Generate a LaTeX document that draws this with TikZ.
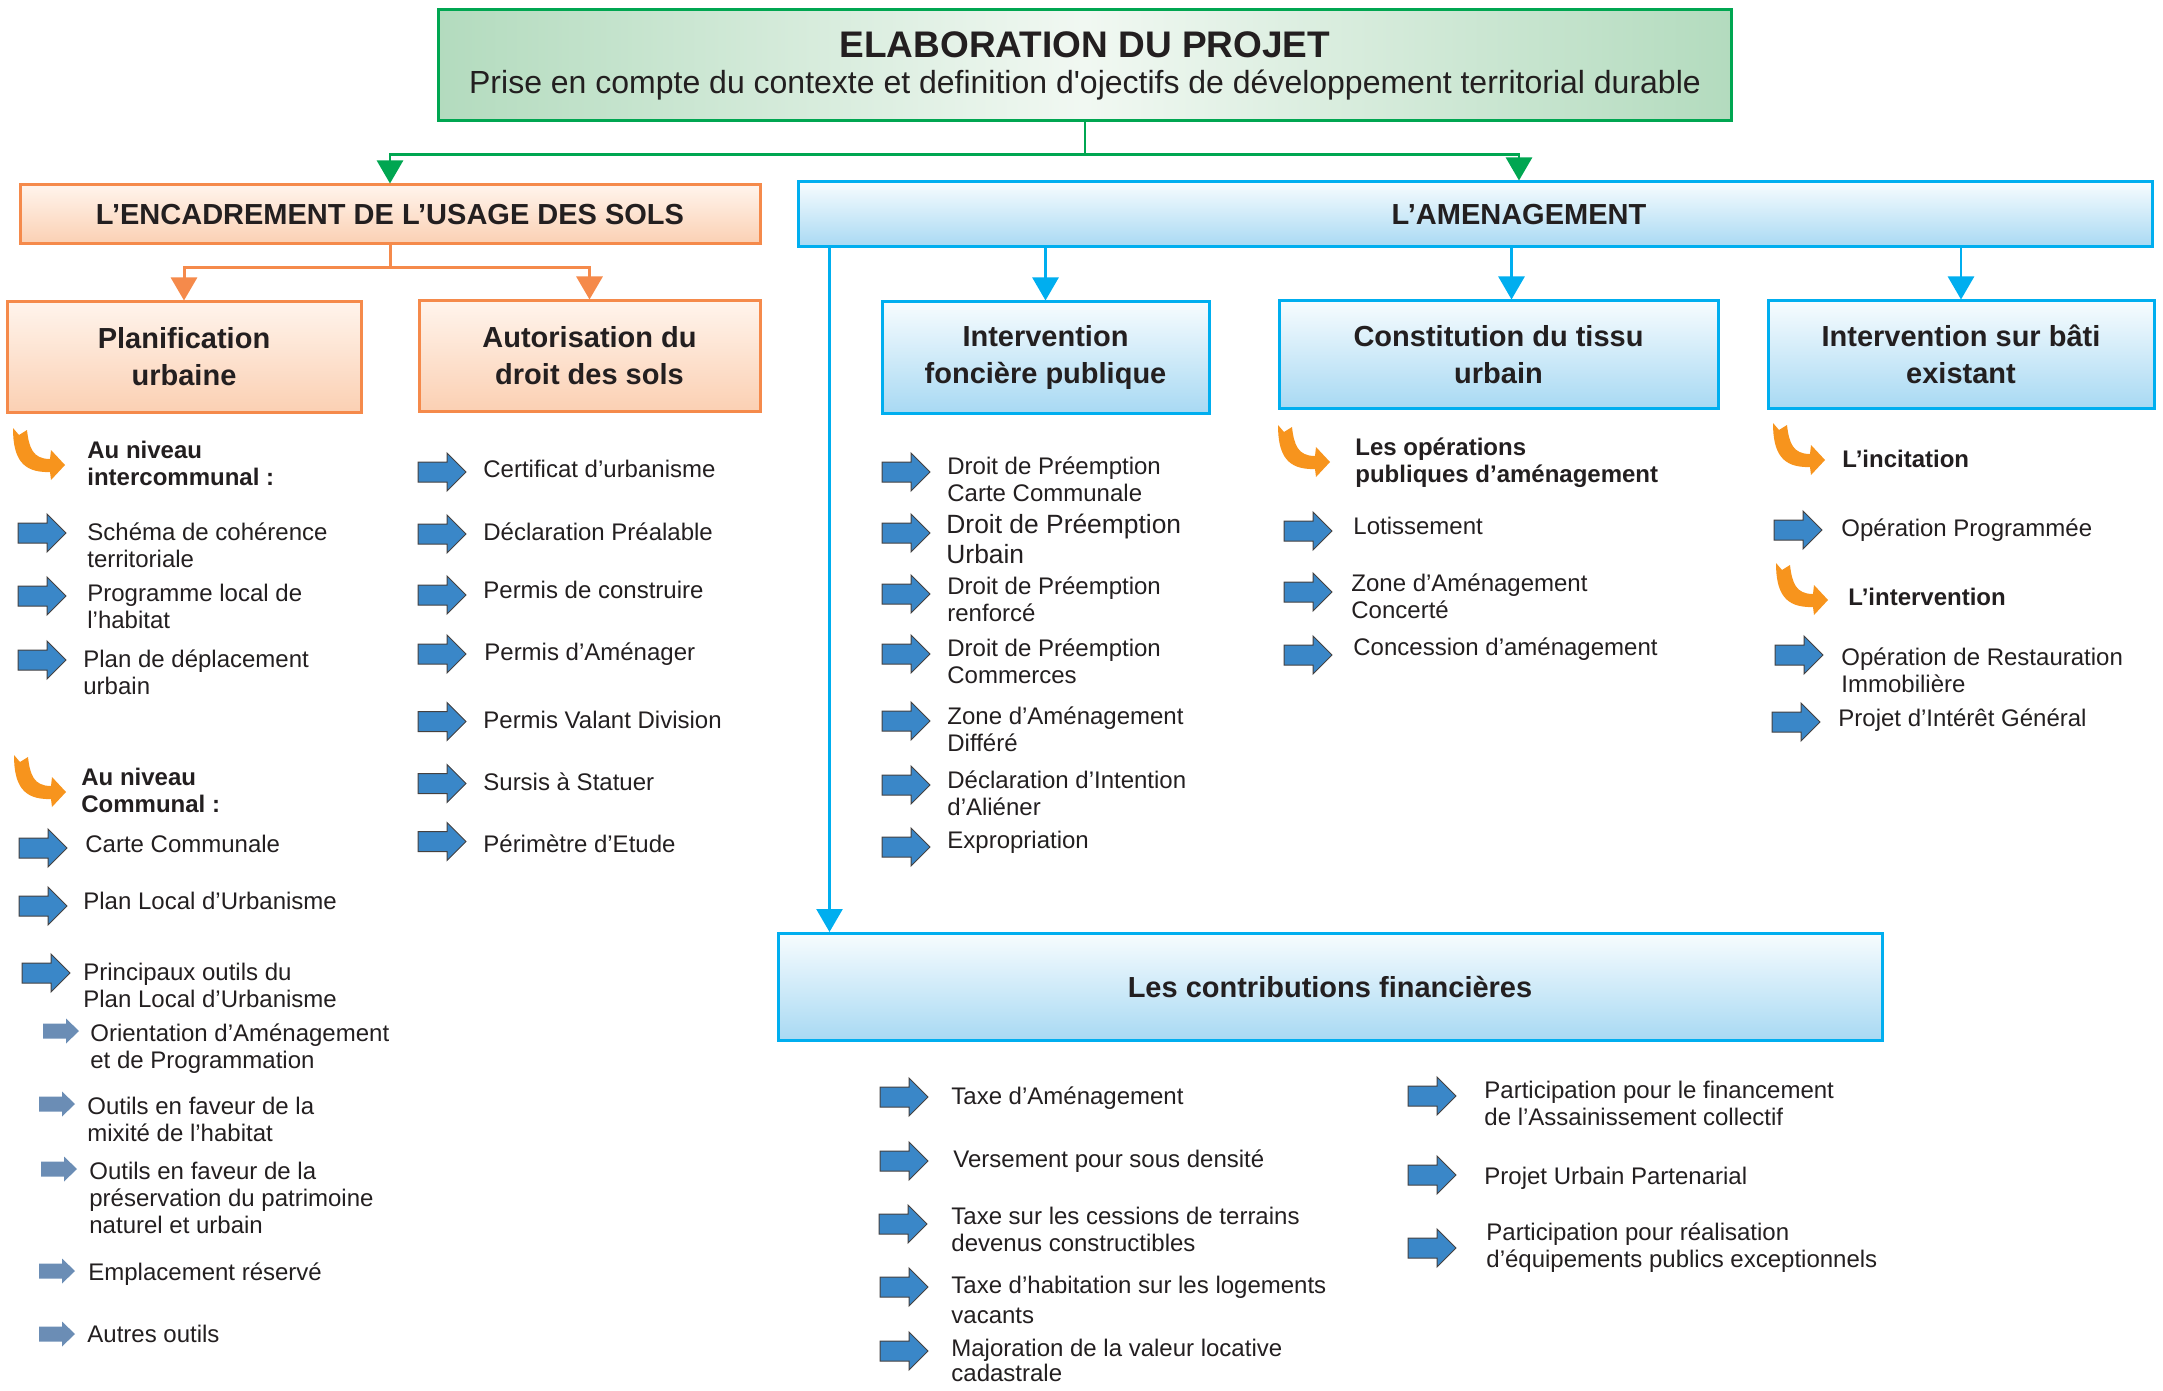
\documentclass[tikz,border=0pt]{standalone}
\usepackage{fontspec}
\setmainfont{Liberation Sans}
\usetikzlibrary{arrows.meta,calc}

\definecolor{ink}{HTML}{231F20}
\definecolor{grbord}{HTML}{00A651}
\definecolor{gredge}{HTML}{B3DBBE}
\definecolor{grmid}{HTML}{F1F8F2}
\definecolor{orbord}{HTML}{F58A4B}
\definecolor{ortop}{HTML}{FFF4EC}
\definecolor{orbot}{HTML}{FBD0B3}
\definecolor{blbord}{HTML}{00AEEF}
\definecolor{bltop}{HTML}{F7FCFE}
\definecolor{blbot}{HTML}{A8D9F3}
\definecolor{arrblue}{HTML}{3A87C8}
\definecolor{arrgray}{HTML}{6B8DB5}
\definecolor{arrorange}{HTML}{F7941D}

\tikzset{
  hdr/.style={draw, line width=1.5pt, inner sep=0pt, align=center, text=ink,
    font=\fontsize{14.5}{18.5}\selectfont\bfseries},
  obox/.style={hdr, draw=orbord, top color=ortop, bottom color=orbot},
  bbox/.style={hdr, draw=blbord, top color=bltop, bottom color=blbot},
  itm/.style={anchor=north west, inner sep=0pt, align=left, text=ink,
    font=\fontsize{12}{13.5}\selectfont},
  niveau/.style={itm, font=\fontsize{12}{13.5}\selectfont\bfseries},
  fleche/.style={-{Triangle[length=11.5pt,width=13pt]}},
  barrow/.pic={\filldraw[fill=arrblue, draw=ink!85, line width=0.5pt]
    (0,-10) -- (29,-10) -- (29,-19) -- (48,0) -- (29,19) -- (29,10) -- (0,10) -- cycle;},
  garrow/.pic={\fill[arrgray]
    (0,-7.5) -- (23,-7.5) -- (23,-12.5) -- (36,0) -- (23,12.5) -- (23,7.5) -- (0,7.5) -- cycle;},
  carrow/.pic={\fill[arrorange] (1,0) -- (7,7) -- (15,2)
    .. controls (17,20) and (21,31) .. (38,31) -- (39,22) -- (53,37) -- (39,52) -- (38,44)
    .. controls (10,45) and (1,30) .. cycle;}
}

\begin{document}
\begin{tikzpicture}[x=0.5pt, y=-0.5pt]
	\useasboundingbox (0,0) rectangle (2163,1391);

	% boites
	\node[hdr, draw=grbord, left color=gredge, right color=gredge, middle color=grmid,
	  minimum width=646.5pt, minimum height=55.5pt, font=\fontsize{16}{18}\selectfont] (projet) at (1085,65.5)
	  {{\fontsize{18.5}{18}\selectfont\bfseries ELABORATION DU PROJET}\\Prise en compte du contexte et definition d\textquotesingle ojectifs de développement territorial durable};
	\node[obox, minimum width=370pt, minimum height=29.5pt] (encadre) at (390,214.5) {L’ENCADREMENT DE L’USAGE DES SOLS};
	\node[obox, minimum width=177pt, minimum height=55pt] (planif) at (184,357) {Planification\\urbaine};
	\node[obox, minimum width=170.5pt, minimum height=55pt] (autor) at (589.5,356) {Autorisation du\\droit des sols};
	\node[bbox, minimum width=677pt, minimum height=32.5pt] (amen) at (1475.5,214.5) {};
	\node[font=\fontsize{14.5}{18.5}\selectfont\bfseries, text=ink, inner sep=0pt] (amentxt) at (1519,215) {L’AMENAGEMENT};
	\node[bbox, minimum width=163.5pt, minimum height=55.5pt] (fonc) at (1045.5,357.5) {Intervention\\foncière publique};
	\node[bbox, minimum width=219.5pt, minimum height=53.5pt] (tissu) at (1498.5,354.5) {Constitution du tissu\\urbain};
	\node[bbox, minimum width=193pt, minimum height=53.5pt] (bati) at (1961,354.5) {Intervention sur bâti\\existant};
	\node[bbox, minimum width=552pt, minimum height=53.5pt] (contrib) at (1330,987) {Les contributions financières};

	% liaisons
	\draw[grbord, line width=1.3pt, fleche] (projet.south) -- ++(0,32) -| (encadre.north);
	\draw[grbord, line width=1.3pt, fleche] (projet.south) -- ++(0,32) -| (amentxt |- amen.north);
	\draw[orbord, line width=1.5pt, fleche] (encadre.south) -- ++(0,22) -| (planif.north);
	\draw[orbord, line width=1.5pt, fleche] (encadre.south) -- ++(0,22) -| (autor.north);
	\draw[blbord, line width=1.3pt, fleche] (fonc.north |- amen.south) -- (fonc.north);
	\draw[blbord, line width=1.3pt, fleche] ($(tissu.north |- amen.south)+(13,0)$) -- ($(tissu.north)+(13,0)$);
	\draw[blbord, line width=1.3pt, fleche] (bati.north |- amen.south) -- (bati.north);
	\draw[blbord, line width=1.3pt, fleche] ($(contrib.north west |- amen.south)+(53,0)$) -- ($(contrib.north west)+(53,0)$);

	% planification urbaine
	\pic at (12,428) {carrow};
	\node[niveau] (inter) at (87,439) {\strut Au niveau\\intercommunal :};
	\pic at (18,533) {barrow};
	\node[itm] (scot) at (87,521) {\strut Schéma de cohérence\\territoriale};
	\pic at (18,596) {barrow};
	\node[itm] (plh) at (87,582) {\strut Programme local de\\l’habitat};
	\pic at (18,660) {barrow};
	\node[itm] (pdu) at (83,648) {\strut Plan de déplacement\\urbain};
	\pic at (13,755) {carrow};
	\node[niveau] (commu) at (81,766) {\strut Au niveau\\Communal :};
	\pic at (19,848) {barrow};
	\node[itm] (cc) at (85,833) {\strut Carte Communale};
	\pic at (19,906) {barrow};
	\node[itm] (plu) at (83,890) {\strut Plan Local d’Urbanisme};
	\pic at (22,973) {barrow};
	\node[itm] (outils) at (83,961) {\strut Principaux outils du\\Plan Local d’Urbanisme};
	\pic at (43,1031) {garrow};
	\node[itm] (oap) at (90,1022) {\strut Orientation d’Aménagement\\et de Programmation};
	\pic at (39,1104) {garrow};
	\node[itm] (mixite) at (87,1095) {\strut Outils en faveur de la\\mixité de l’habitat};
	\pic at (41,1169) {garrow};
	\node[itm] (patri) at (89,1160) {\strut Outils en faveur de la\\préservation du patrimoine\\naturel et urbain};
	\pic at (39,1271) {garrow};
	\node[itm] (er) at (88,1261) {\strut Emplacement réservé};
	\pic at (39,1334) {garrow};
	\node[itm] (autres) at (87,1323) {\strut Autres outils};

	% autorisation du droit des sols
	\pic at (418,472) {barrow};
	\node[itm] (cu) at (483,458) {\strut Certificat d’urbanisme};
	\pic at (418,534) {barrow};
	\node[itm] (dp) at (483,521.5) {\strut Déclaration Préalable};
	\pic at (418,595) {barrow};
	\node[itm] (pc) at (483,579) {\strut Permis de construire};
	\pic at (418,654) {barrow};
	\node[itm] (pa) at (484,641.5) {\strut Permis d’Aménager};
	\pic at (418,721.5) {barrow};
	\node[itm] (pvd) at (483,709) {\strut Permis Valant Division};
	\pic at (418,783.5) {barrow};
	\node[itm] (sursis) at (483,771) {\strut Sursis à Statuer};
	\pic at (418,841.5) {barrow};
	\node[itm] (perim) at (483,833) {\strut Périmètre d’Etude};

	% intervention fonciere
	\pic at (882,472) {barrow};
	\node[itm] (dpcc) at (947,455) {\strut Droit de Préemption\\Carte Communale};
	\pic at (882,533) {barrow};
	\node[itm, font=\fontsize{13.2}{13.5}\selectfont] (dpu) at (946,514) {\strut Droit de Préemption\\Urbain};
	\pic at (882,594) {barrow};
	\node[itm] (dpr) at (947,575) {\strut Droit de Préemption\\renforcé};
	\pic at (882,654) {barrow};
	\node[itm] (dpc) at (947,637) {\strut Droit de Préemption\\Commerces};
	\pic at (882,721) {barrow};
	\node[itm] (zad) at (947,705) {\strut Zone d’Aménagement\\Différé};
	\pic at (882,785) {barrow};
	\node[itm] (dia) at (947,769) {\strut Déclaration d’Intention\\d’Aliéner};
	\pic at (882,847) {barrow};
	\node[itm] (expro) at (947,829) {\strut Expropriation};

	% tissu urbain
	\pic at (1277,425) {carrow};
	\node[niveau] (opa) at (1355,436) {\strut Les opérations\\publiques d’aménagement};
	\pic at (1284,531) {barrow};
	\node[itm] (lotis) at (1353,515) {\strut Lotissement};
	\pic at (1284,592) {barrow};
	\node[itm] (zac) at (1351,572) {\strut Zone d’Aménagement\\Concerté};
	\pic at (1284,655) {barrow};
	\node[itm] (conc) at (1353,636) {\strut Concession d’aménagement};

	% bati existant
	\pic at (1772,423) {carrow};
	\node[niveau] (incit) at (1842,448) {\strut L’incitation};
	\pic at (1774,530) {barrow};
	\node[itm] (opah) at (1841,517) {\strut Opération Programmée};
	\pic at (1775,563) {carrow};
	\node[niveau] (interv) at (1848,586) {\strut L’intervention};
	\pic at (1775,655) {barrow};
	\node[itm] (ori) at (1841,646) {\strut Opération de Restauration\\Immobilière};
	\pic at (1772,722) {barrow};
	\node[itm] (pig) at (1838,707) {\strut Projet d’Intérêt Général};

	% contributions
	\pic at (880,1097) {barrow};
	\node[itm] (ta) at (951,1085) {\strut Taxe d’Aménagement};
	\pic at (880,1161) {barrow};
	\node[itm] (vsd) at (953,1148) {\strut Versement pour sous densité};
	\pic at (879,1224) {barrow};
	\node[itm] (tct) at (951,1205) {\strut Taxe sur les cessions de terrains\\devenus constructibles};
	\pic at (880,1287) {barrow};
	\node[itm] (thlv) at (951,1274) {\strut Taxe d’habitation sur les logements\\[1.5pt]vacants};
	\pic at (880,1351) {barrow};
	\node[itm] (vlc) at (951,1337) {\strut Majoration de la valeur locative\\[-1pt]cadastrale};
	\pic at (1408,1096) {barrow};
	\node[itm] (pfac) at (1484,1079) {\strut Participation pour le financement\\de l’Assainissement collectif};
	\pic at (1408,1175) {barrow};
	\node[itm] (pup) at (1484,1165) {\strut Projet Urbain Partenarial};
	\pic at (1408,1248) {barrow};
	\node[itm] (pepe) at (1486,1221) {\strut Participation pour réalisation\\d’équipements publics exceptionnels};
\end{tikzpicture}
\end{document}
